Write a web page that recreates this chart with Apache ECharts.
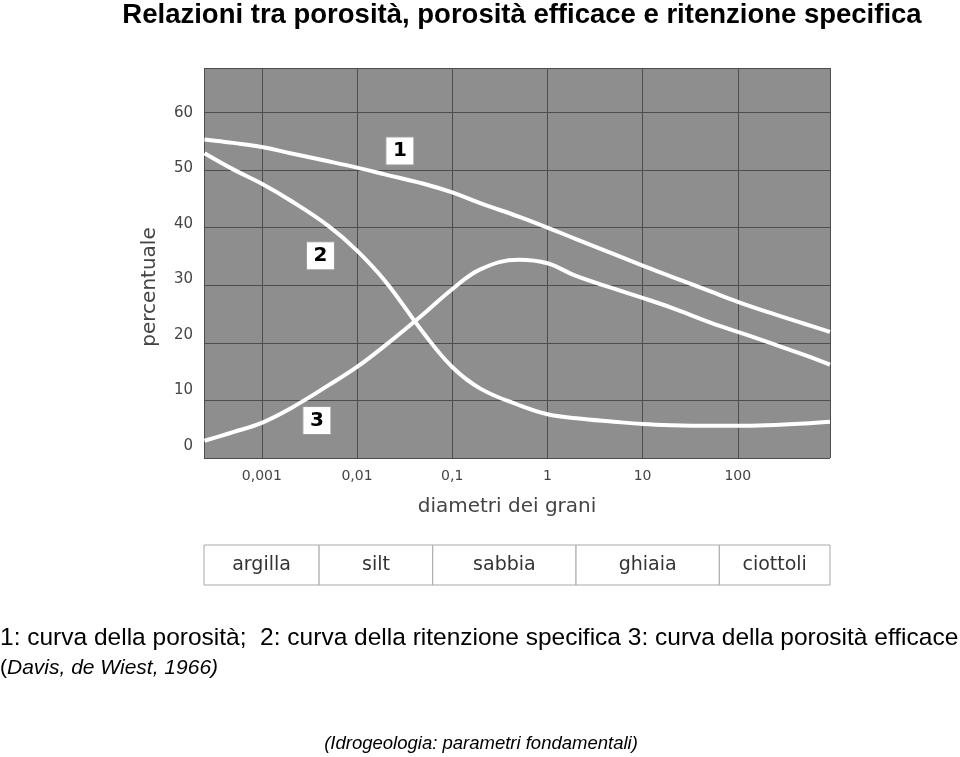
<!DOCTYPE html>
<html>
<head>
<meta charset="utf-8">
<script src="https://cdn.jsdelivr.net/npm/echarts@6/dist/echarts.min.js"></script>
<style>
  html, body { margin: 0; padding: 0; background: #fff; }
  #chart { width: 960px; height: 757px; }
</style>
</head>
<body>
<div id="chart"></div>
<script>
// diametri (mm)
var diametri = [0.00025, 0.0005, 0.001, 0.002, 0.005, 0.01, 0.02, 0.05, 0.1, 0.2, 0.5, 1, 2, 5, 10, 20, 50, 100, 200, 500, 930];
// 1: porosità
var porosita = [55.3, 54.7, 54.0, 52.9, 51.5, 50.4, 49.2, 47.6, 46.1, 44.2, 41.9, 40.0, 38.0, 35.4, 33.4, 31.5, 29.0, 27.1, 25.4, 23.3, 21.9];
// 2: ritenzione specifica
var ritenzione = [52.9, 50.1, 47.6, 44.7, 40.3, 36.0, 30.6, 21.7, 15.8, 12.0, 9.2, 7.6, 6.9, 6.3, 5.9, 5.7, 5.6, 5.6, 5.7, 6.0, 6.3];
// 3: porosità efficace
var efficace = [3.0, 4.5, 6.1, 8.6, 12.6, 15.8, 19.6, 25.0, 29.3, 32.8, 34.4, 33.8, 31.6, 29.4, 27.8, 26.1, 23.6, 21.9, 20.2, 17.9, 16.2];

// etichette numeriche delle curve
var numeri = ['1', '2', '3'];
var numeriX = [0.0282, 0.00413, 0.00379];
var numeriY = [53.3, 35.1, 6.5];

// classi granulometriche
var classi = ['argilla', 'silt', 'sabbia', 'ghiaia', 'ciottoli'];
var limiti = [0.000247, 0.004, 0.0625, 2, 64, 931];

var yEtichette = [0, 10, 20, 30, 40, 50, 60];

var xMin = 0.000247, xMax = 931;
var font = 'DejaVu Sans';

function pts(arr) {
  return diametri.map(function (d, i) { return [d, arr[i]]; });
}

var aree = [];
for (var i = 0; i < classi.length; i++) {
  aree.push([{ name: classi[i], xAxis: limiti[i] }, { xAxis: limiti[i + 1] }]);
}

var curva = {
  type: 'line', smooth: 0.4, symbol: 'none', silent: true,
  lineStyle: { color: '#fff', width: 4 }
};

var myChart = echarts.init(document.getElementById('chart'));
var option = {
  animation: false,
  backgroundColor: '#fff',
  grid: [
    { left: 204, top: 68, width: 626, height: 390, show: true, backgroundColor: '#8e8e8e', borderWidth: 0 },
    { left: 204, top: 545, width: 626, height: 40 }
  ],
  xAxis: [
    {
      type: 'log', gridIndex: 0, min: xMin, max: xMax,
      axisLine: { show: false }, axisTick: { show: false },
      splitLine: { show: true, lineStyle: { color: '#4d4d4d', width: 1 } },
      axisLabel: {
        margin: 11, color: '#444', fontSize: 14, fontFamily: font,
        showMinLabel: false, showMaxLabel: false,
        formatter: function (v) {
          var e = Math.log10(v);
          if (Math.abs(e - Math.round(e)) > 1e-6) return '';
          return String(+Number(v).toPrecision(6)).replace('.', ',');
        }
      }
    },
    {
      type: 'log', gridIndex: 1, min: xMin, max: xMax, show: false
    }
  ],
  yAxis: [
    {
      type: 'value', gridIndex: 0, min: 0, max: 67.7, interval: 10,
      axisLine: { show: false }, axisTick: { show: false }, axisLabel: { show: false },
      splitLine: { show: true, lineStyle: { color: '#4d4d4d', width: 1 } }
    },
    {
      type: 'value', gridIndex: 0, position: 'left', min: -2.16, max: 68.05,
      axisLine: { show: false }, axisTick: { show: false }, splitLine: { show: false },
      axisLabel: { customValues: yEtichette, margin: 11, color: '#444', fontSize: 15, fontFamily: font }
    },
    { type: 'value', gridIndex: 1, min: 0, max: 1, show: false }
  ],
  series: [
    Object.assign({ name: 'porosità', data: pts(porosita) }, curva),
    Object.assign({ name: 'ritenzione specifica', data: pts(ritenzione) }, curva),
    Object.assign({ name: 'porosità efficace', data: pts(efficace) }, curva),
    {
      type: 'scatter', silent: true, symbol: 'rect', symbolSize: 28,
      itemStyle: { color: '#fff', opacity: 1, borderColor: '#9a9a9a', borderWidth: 1 },
      label: {
        show: true, position: 'inside', color: '#000', fontSize: 20, fontWeight: 'bold',
        fontFamily: font, formatter: function (p) { return p.value[2]; }
      },
      data: numeri.map(function (n, i) { return [numeriX[i], numeriY[i], n]; })
    },
    {
      type: 'line', xAxisIndex: 1, yAxisIndex: 2, data: [], silent: true,
      markArea: {
        silent: true,
        itemStyle: { color: '#fff', borderColor: '#a8a8a8', borderWidth: 1 },
        label: { show: true, position: 'inside', color: '#333', fontSize: 19, fontFamily: font },
        data: aree
      }
    }
  ],
  graphic: [
    {
      type: 'text', x: 522, y: 15,
      style: {
        text: 'Relazioni tra porosità, porosità efficace e ritenzione specifica',
        font: 'bold 27.5px "Liberation Sans", Arial, sans-serif', fill: '#000',
        align: 'center', verticalAlign: 'middle',
        shadowColor: 'rgba(0,0,0,0.45)', shadowBlur: 2, shadowOffsetX: 2, shadowOffsetY: 2
      }
    },
    {
      type: 'text', x: 150, y: 287, rotation: Math.PI / 2,
      style: {
        text: 'percentuale', font: '20px "DejaVu Sans"', fill: '#444',
        align: 'center', verticalAlign: 'middle'
      }
    },
    {
      type: 'text', x: 507, y: 507,
      style: {
        text: 'diametri dei grani', font: '20px "DejaVu Sans"', fill: '#444',
        align: 'center', verticalAlign: 'middle'
      }
    },
    {
      type: 'text', x: 0, y: 638,
      style: {
        text: '1: curva della porosità;  2: curva della ritenzione specifica 3: curva della porosità efficace',
        font: '24.5px "Liberation Sans", Arial, sans-serif', fill: '#000',
        align: 'left', verticalAlign: 'middle'
      }
    },
    {
      type: 'text', x: 0, y: 668,
      style: {
        text: '{n|(}Davis, de Wiest, 1966)',
        font: 'italic 21px "Liberation Sans", Arial, sans-serif', fill: '#000',
        align: 'left', verticalAlign: 'middle',
        rich: { n: { font: '21px "Liberation Sans", Arial, sans-serif', fill: '#000' } }
      }
    },
    {
      type: 'text', x: 481, y: 744,
      style: {
        text: '(Idrogeologia: parametri fondamentali)',
        font: 'italic 18.5px "Liberation Sans", Arial, sans-serif', fill: '#000',
        align: 'center', verticalAlign: 'middle'
      }
    }
  ]
};
myChart.setOption(option);
</script>
</body>
</html>
